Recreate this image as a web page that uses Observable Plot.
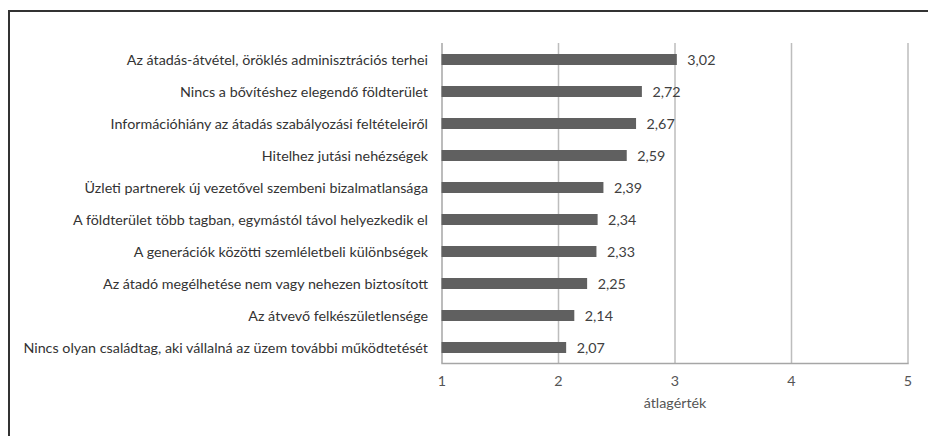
<!DOCTYPE html>
<html>
<head>
<meta charset="utf-8">
<script src="https://cdn.jsdelivr.net/npm/d3@7"></script>
<script src="https://cdn.jsdelivr.net/npm/@observablehq/plot@0.6"></script>
<style>
  html, body { margin: 0; padding: 0; background: #fff; }
  #wrap { position: relative; width: 928px; height: 436px; overflow: hidden; }
  #frame { position: absolute; left: 8px; top: 10px; width: 940px; height: 440px;
           border-top: 2px solid #333; border-left: 2px solid #333; pointer-events: none; }
  #chart { position: absolute; left: 0; top: 0; }
  #chart svg { font-family: Lato, "Open Sans", sans-serif; }
</style>
</head>
<body>
<div id="wrap"><div id="chart"></div><div id="frame"></div></div>
<script>
const categories = [
  "Az átadás-átvétel, öröklés adminisztrációs terhei",
  "Nincs a bővítéshez elegendő földterület",
  "Információhiány az átadás szabályozási feltételeiről",
  "Hitelhez jutási nehézségek",
  "Üzleti partnerek új vezetővel szembeni bizalmatlansága",
  "A földterület több tagban, egymástól távol helyezkedik el",
  "A generációk közötti szemléletbeli különbségek",
  "Az átadó megélhetése nem vagy nehezen biztosított",
  "Az átvevő felkészületlensége",
  "Nincs olyan családtag, aki vállalná az üzem további működtetését"
];
const values = [3.02, 2.72, 2.67, 2.59, 2.39, 2.34, 2.33, 2.25, 2.14, 2.07];
const xTicks = [1, 2, 3, 4, 5];
const axisTitle = "átlagérték";

const data = categories.map((c, i) => ({category: c, value: values[i]}));
const fmt = v => v.toFixed(2).replace(".", ",");
const fs = 14.3;

const chart = Plot.plot({
  width: 928,
  height: 436,
  marginLeft: 441.5,
  marginRight: 20.5,
  marginTop: 43,
  marginBottom: 73,
  style: {background: "transparent", fontSize: fs + "px"},
  x: {domain: [1, 5], ticks: xTicks, tickFormat: d => String(d)},
  y: {domain: categories, paddingInner: 0.66, paddingOuter: 0.33},
  marks: [
    Plot.ruleX(xTicks.slice(1), {stroke: "#bdbdbd", strokeWidth: 1.5}),
    Plot.ruleX([1], {stroke: "#a6a6a6", strokeWidth: 1.5}),
    Plot.frame({anchor: "bottom", stroke: "#a6a6a6", strokeWidth: 1.5}),
    Plot.barX(data, {y: "category", x1: 1, x2: "value", fill: "#606060"}),
    Plot.text(data, {y: "category", x: "value", text: d => fmt(d.value), dx: 10,
                     textAnchor: "start", fill: "#404040", fontSize: fs}),
    Plot.axisY({tickSize: 0, tickPadding: 14, label: null, fill: "#333", fontSize: fs}),
    Plot.axisX({ticks: xTicks, tickFormat: d => String(d), tickSize: 0, tickPadding: 12,
                label: null, fill: "#555", fontSize: fs}),
    Plot.text([axisTitle], {frameAnchor: "bottom", dy: 44, fill: "#555", fontSize: fs})
  ]
});
document.getElementById("chart").appendChild(chart);
</script>
</body>
</html>
